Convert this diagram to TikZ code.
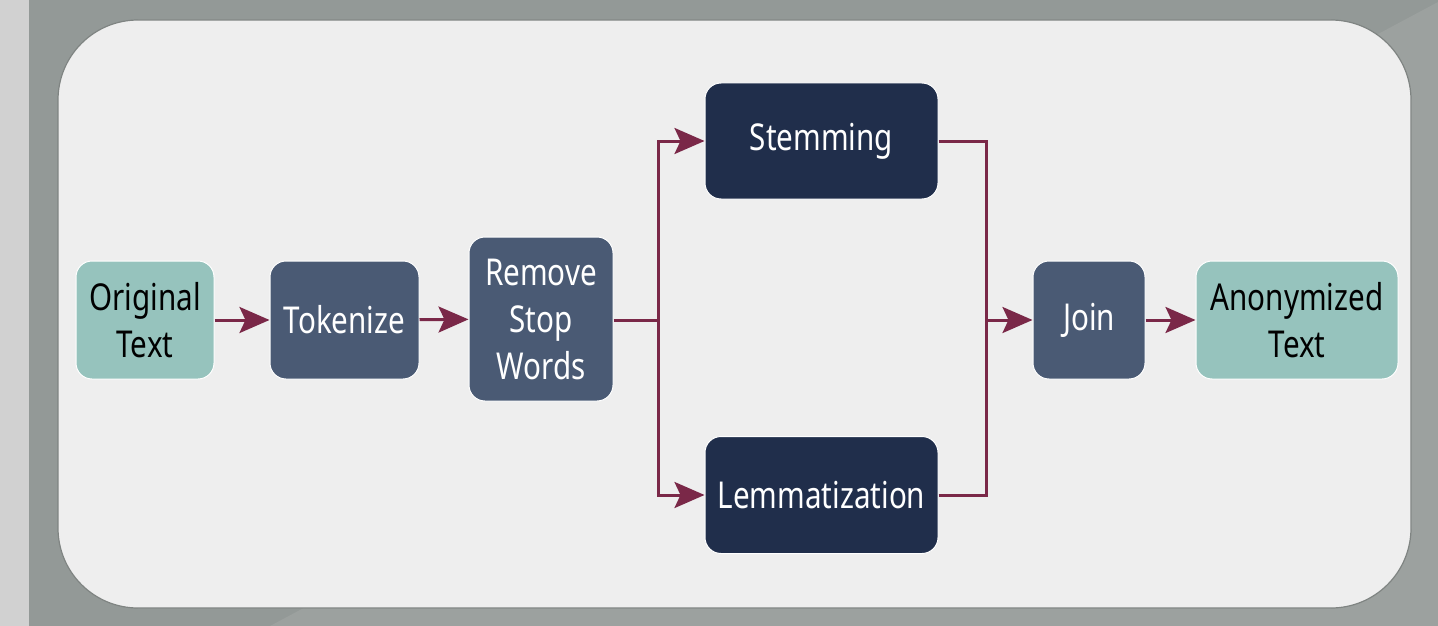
\documentclass[tikz,border=0pt]{standalone}
\usepackage{fontspec}
\setmainfont{Noto Sans}[FakeStretch=0.8]
\usetikzlibrary{arrows.meta}

\definecolor{stripgray}{HTML}{D1D1D1}
\definecolor{bgdark}{HTML}{939997}
\definecolor{bglight}{HTML}{9CA19F}
\definecolor{panelfill}{HTML}{EEEEEE}
\definecolor{panelline}{HTML}{7F8482}
\definecolor{tealbox}{HTML}{96C3BD}
\definecolor{slatebox}{HTML}{4A5A74}
\definecolor{navybox}{HTML}{202E4B}
\definecolor{flowline}{HTML}{7A2848}

\tikzset{
  box/.style={rectangle, rounded corners=16pt, draw=white, line width=1pt,
    inner sep=0pt, align=center,
    font=\fontsize{37}{47}\selectfont},
  endbox/.style={box, fill=tealbox, text=black},
  stepbox/.style={box, fill=slatebox, text=white},
  branchbox/.style={box, fill=navybox, text=white},
  link/.style={draw=flowline, line width=3pt},
  arrowlink/.style={link, -{Stealth[length=30pt,width=26pt,inset=6pt]}}
}

\begin{document}
\begin{tikzpicture}[x=1pt,y=-1pt]
  \useasboundingbox (0,0) rectangle (1438,626);

  % backdrop
  \fill[bgdark] (0,0) rectangle (1438,626);
  \fill[bglight] (1438,2) -- (270,626) -- (1438,626) -- cycle;
  \fill[stripgray] (0,0) rectangle (29,626);

  % panel
  \draw[fill=panelfill, draw=panelline, line width=1.2pt, rounded corners=80pt]
    (58,20) rectangle (1411,608);

  % nodes
  \node[endbox, minimum width=138pt, minimum height=118pt] (orig) at (145,320) {Original\\Text};
  \node[stepbox, minimum width=149pt, minimum height=118pt] (tok) at (344.5,320) {Tokenize};
  \node[stepbox, minimum width=144pt, minimum height=164pt] (rsw) at (541,319) {Remove\\Stop\\Words};
  \node[branchbox, minimum width=233pt, minimum height=116pt] (stem) at (821.5,141) {Stemming};
  \node[branchbox, minimum width=233pt, minimum height=117pt] (lem) at (821.5,495) {Lemmatization};
  \node[stepbox, minimum width=112pt, minimum height=118pt] (join) at (1089,320) {Join};
  \node[endbox, minimum width=202pt, minimum height=118pt] (anon) at (1297,320) {Anonymized\\Text};

  \coordinate (split) at (658,320);
  \coordinate (merge) at (986,320);

  % connectors
  \draw[arrowlink] (orig) -- (tok);
  \draw[arrowlink] (tok) -- (rsw);
  \draw[link] (rsw.east |- split) -- (split);
  \draw[arrowlink] (split) |- (stem.west);
  \draw[arrowlink] (split) |- (lem.west);
  \draw[link] (stem.east) -| (merge);
  \draw[link] (lem.east) -| (merge);
  \draw[arrowlink] (merge) -- (join);
  \draw[arrowlink] (join) -- (anon);
\end{tikzpicture}
\end{document}
